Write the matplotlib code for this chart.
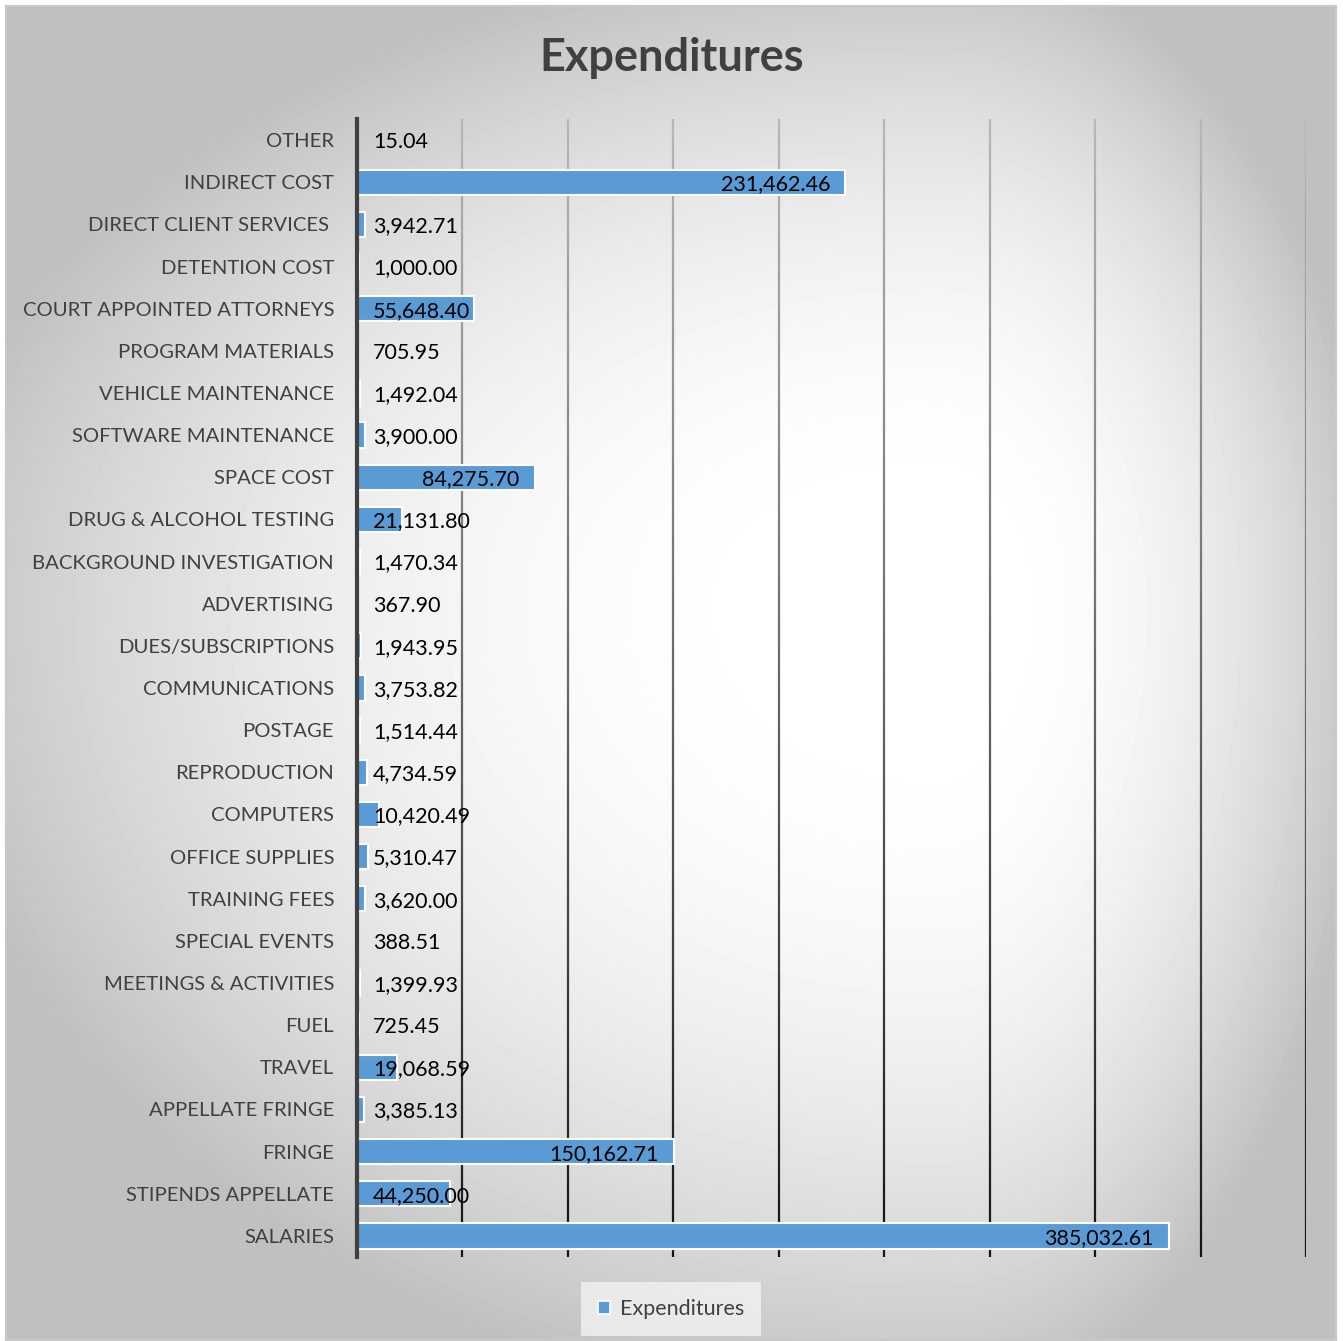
import numpy as np
import matplotlib.pyplot as plt
from matplotlib.collections import LineCollection
from matplotlib.patches import Rectangle
from matplotlib.transforms import offset_copy

# Expense categories, bottom bar first
categories = [
    "SALARIES", "STIPENDS APPELLATE", "FRINGE", "APPELLATE FRINGE", "TRAVEL",
    "FUEL", "MEETINGS & ACTIVITIES", "SPECIAL EVENTS", "TRAINING FEES",
    "OFFICE SUPPLIES", "COMPUTERS", "REPRODUCTION", "POSTAGE", "COMMUNICATIONS",
    "DUES/SUBSCRIPTIONS", "ADVERTISING", "BACKGROUND INVESTIGATION",
    "DRUG & ALCOHOL TESTING", "SPACE COST", "SOFTWARE MAINTENANCE",
    "VEHICLE MAINTENANCE", "PROGRAM MATERIALS", "COURT APPOINTED ATTORNEYS",
    "DETENTION COST", "DIRECT CLIENT SERVICES ", "INDIRECT COST", "OTHER",
]
expenditures = [
    385032.61, 44250.00, 150162.71, 3385.13, 19068.59,
    725.45, 1399.93, 388.51, 3620.00,
    5310.47, 10420.49, 4734.59, 1514.44, 3753.82,
    1943.95, 367.90, 1470.34,
    21131.80, 84275.70, 3900.00,
    1492.04, 705.95, 55648.40,
    1000.00, 3942.71, 231462.46, 15.04,
]
grid_values = np.arange(50000, 450001, 50000)

W, H, DPI = 1343, 1341, 100
BLUE = "#5B9BD5"
GREY_TEXT = "#404040"
plt.rcParams["font.family"] = ["Lato", "DejaVu Sans"]

fig = plt.figure(figsize=(W / DPI, H / DPI), dpi=DPI)
fig.patch.set_facecolor("white")

# grey-to-white path gradient behind the chart, with a thin border
bg = fig.add_axes([6 / W, 1 - 1340 / H, 1330 / W, 1334 / H], zorder=-10)
ny, nx = 400, 400
yy, xx = np.mgrid[0:ny, 0:nx] + 0.5
cx, cy = 0.70 * nx, 0.45 * ny
u = np.where(xx < cx, (cx - xx) / cx, (xx - cx) / (nx - cx))
v = np.where(yy < cy, (cy - yy) / cy, (yy - cy) / (ny - cy))
t = np.clip((np.hypot(u, v) - 0.12) / 0.88, 0, None)
shade = np.clip(1.0 - 0.2 * t ** 2, 0.75, 1.0)
bg.imshow(shade, cmap="gray", vmin=0, vmax=1, extent=(0, 1, 0, 1),
          origin="upper", aspect="auto", interpolation="bicubic")
bg.set_xlim(0, 1)
bg.set_ylim(0, 1)
bg.set_xticks([])
bg.set_yticks([])
for s in bg.spines.values():
    s.set_color("#c8c8c8")
    s.set_linewidth(1.5)

ax = fig.add_axes([357 / W, 1 - 1257 / H, 949 / W, 1138 / H])
ax.patch.set_alpha(0)
y = np.arange(len(categories))

# vertical gridlines fading from light grey at top to near black at bottom
n = 60
segs, cols = [], []
for g in grid_values:
    for k in range(n):
        y0, y1 = 1 - k / n, 1 - (k + 1) / n
        segs.append([(g, y0), (g, y1)])
        c = 0.72 - 0.64 * (k + 0.5) / n
        cols.append((c, c, c))
ax.add_collection(LineCollection(segs, colors=cols, linewidths=1.6,
                                 transform=ax.get_xaxis_transform(), zorder=1))

bars = ax.barh(y, expenditures, height=0.6, color=BLUE, edgecolor="white",
               linewidth=1.5, zorder=2)

ax.set_xlim(0, 450000)
ax.set_ylim(-0.5, len(categories) - 0.5)
ax.set_yticks(y)
ax.set_yticklabels(categories, fontsize=14.6, color=GREY_TEXT)
ax.tick_params(axis="y", length=0, pad=16.5)
ax.set_xticks([])
for side in ["top", "right", "bottom"]:
    ax.spines[side].set_visible(False)
ax.spines["left"].set_color(GREY_TEXT)
ax.spines["left"].set_linewidth(3)
ax.spines["left"].set_zorder(3)

fig.suptitle("Expenditures", x=0.5, y=1 - 58 / H, va="center",
             fontsize=32.5, fontweight="bold", color=GREY_TEXT)

# value labels: inside bar end, or just past the axis when the bar is short
fig.canvas.draw()
renderer = fig.canvas.get_renderer()
min_left = ax.transData.transform((0, 0))[0] + 16
for yi, v in zip(y, expenditures):
    label = f"{v:,.2f}"
    t = ax.text(v, yi, label, ha="right", va="center", fontsize=15.5,
                color="black", zorder=4,
                transform=offset_copy(ax.transData, fig, x=-15, y=-2, units="dots"))
    if t.get_window_extent(renderer).x0 < min_left:
        t.remove()
        ax.text(0, yi, label, ha="left", va="center", fontsize=15.5,
                color="black", zorder=4,
                transform=offset_copy(ax.transData, fig, x=16, y=-2, units="dots"))

handle = Rectangle((0, 0), 1, 1, facecolor=BLUE, edgecolor="white", linewidth=1.2)
leg = fig.legend([handle], ["Expenditures"], loc="center",
                 bbox_to_anchor=(671 / W, 1 - 1309 / H), frameon=True,
                 fancybox=False, fontsize=15.5, handlelength=0.55,
                 handleheight=0.55, handletextpad=0.45, borderpad=0.8,
                 borderaxespad=0, labelcolor=GREY_TEXT)
leg.get_frame().set_facecolor("#f2f2f2")
leg.get_frame().set_edgecolor("none")

fig.savefig("out.png", dpi=DPI, facecolor=fig.get_facecolor())
